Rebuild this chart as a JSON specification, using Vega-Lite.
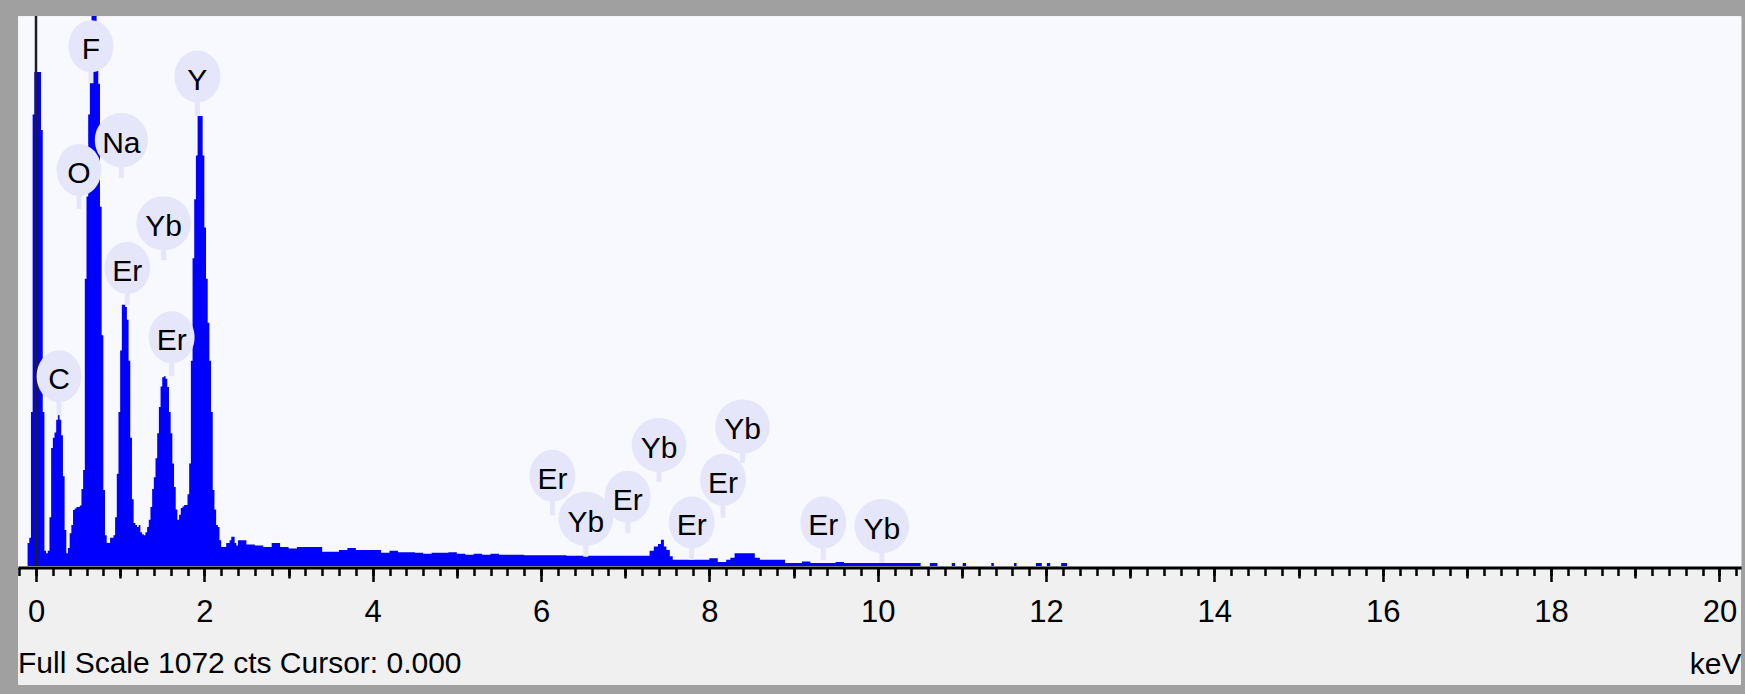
{
  "$schema": "https://vega.github.io/schema/vega-lite/v6.json",
  "background": "#A0A0A0",
  "padding": {"left": 18, "top": 16, "right": 4, "bottom": 9},
  "autosize": {"type": "none"},
  "width": 1723,
  "height": 669,
  "config": {"view": {"stroke": null, "fill": "#F0F0F0"}, "font": "Liberation Sans"},
  "title": {
    "text": "Full Scale 1072 cts Cursor: 0.000",
    "orient": "bottom", "anchor": "start", "frame": "group", "offset": -12,
    "font": "Liberation Sans", "fontSize": 30, "fontWeight": "normal", "color": "#000000", "baseline": "alphabetic"
  },
  "datasets": {
    "spectrum": [
      {"keV": -0.14, "cts": 0}, {"keV": -0.12, "cts": 0}, {"keV": -0.10, "cts": 45}, {"keV": -0.08, "cts": 55},
      {"keV": -0.06, "cts": 300}, {"keV": -0.04, "cts": 880}, {"keV": -0.02, "cts": 963}, {"keV": 0.00, "cts": 963},
      {"keV": 0.02, "cts": 963}, {"keV": 0.04, "cts": 963}, {"keV": 0.06, "cts": 850}, {"keV": 0.08, "cts": 300},
      {"keV": 0.10, "cts": 30}, {"keV": 0.12, "cts": 25}, {"keV": 0.14, "cts": 30}, {"keV": 0.16, "cts": 95},
      {"keV": 0.18, "cts": 230}, {"keV": 0.20, "cts": 250}, {"keV": 0.22, "cts": 260}, {"keV": 0.24, "cts": 285},
      {"keV": 0.26, "cts": 296}, {"keV": 0.28, "cts": 285}, {"keV": 0.30, "cts": 255}, {"keV": 0.32, "cts": 175},
      {"keV": 0.34, "cts": 70}, {"keV": 0.36, "cts": 25}, {"keV": 0.38, "cts": 35}, {"keV": 0.40, "cts": 64},
      {"keV": 0.42, "cts": 80}, {"keV": 0.44, "cts": 109}, {"keV": 0.46, "cts": 112}, {"keV": 0.48, "cts": 115},
      {"keV": 0.50, "cts": 115}, {"keV": 0.52, "cts": 118}, {"keV": 0.54, "cts": 150}, {"keV": 0.56, "cts": 187},
      {"keV": 0.58, "cts": 560}, {"keV": 0.60, "cts": 720}, {"keV": 0.62, "cts": 880}, {"keV": 0.64, "cts": 960},
      {"keV": 0.66, "cts": 1080}, {"keV": 0.68, "cts": 1080}, {"keV": 0.70, "cts": 1080}, {"keV": 0.72, "cts": 1000},
      {"keV": 0.74, "cts": 940}, {"keV": 0.76, "cts": 700}, {"keV": 0.78, "cts": 450}, {"keV": 0.80, "cts": 148},
      {"keV": 0.82, "cts": 60}, {"keV": 0.84, "cts": 45}, {"keV": 0.86, "cts": 45}, {"keV": 0.88, "cts": 55},
      {"keV": 0.90, "cts": 55}, {"keV": 0.92, "cts": 60}, {"keV": 0.94, "cts": 95}, {"keV": 0.96, "cts": 180},
      {"keV": 0.98, "cts": 300}, {"keV": 1.00, "cts": 420}, {"keV": 1.02, "cts": 509}, {"keV": 1.04, "cts": 509},
      {"keV": 1.06, "cts": 505}, {"keV": 1.08, "cts": 480}, {"keV": 1.10, "cts": 400}, {"keV": 1.12, "cts": 250},
      {"keV": 1.14, "cts": 130}, {"keV": 1.16, "cts": 84}, {"keV": 1.18, "cts": 80}, {"keV": 1.20, "cts": 76},
      {"keV": 1.22, "cts": 80}, {"keV": 1.24, "cts": 66}, {"keV": 1.26, "cts": 62}, {"keV": 1.28, "cts": 60},
      {"keV": 1.30, "cts": 66}, {"keV": 1.32, "cts": 76}, {"keV": 1.34, "cts": 90}, {"keV": 1.36, "cts": 115},
      {"keV": 1.38, "cts": 150}, {"keV": 1.40, "cts": 173}, {"keV": 1.42, "cts": 210}, {"keV": 1.44, "cts": 259},
      {"keV": 1.46, "cts": 310}, {"keV": 1.48, "cts": 350}, {"keV": 1.50, "cts": 368}, {"keV": 1.52, "cts": 370},
      {"keV": 1.54, "cts": 365}, {"keV": 1.56, "cts": 349}, {"keV": 1.58, "cts": 300}, {"keV": 1.60, "cts": 259},
      {"keV": 1.62, "cts": 200}, {"keV": 1.64, "cts": 154}, {"keV": 1.66, "cts": 110}, {"keV": 1.68, "cts": 90},
      {"keV": 1.70, "cts": 100}, {"keV": 1.72, "cts": 113}, {"keV": 1.74, "cts": 116}, {"keV": 1.76, "cts": 119},
      {"keV": 1.78, "cts": 119}, {"keV": 1.80, "cts": 140}, {"keV": 1.82, "cts": 200}, {"keV": 1.84, "cts": 400},
      {"keV": 1.86, "cts": 600}, {"keV": 1.88, "cts": 715}, {"keV": 1.90, "cts": 800}, {"keV": 1.92, "cts": 877},
      {"keV": 1.94, "cts": 877}, {"keV": 1.96, "cts": 877}, {"keV": 1.98, "cts": 800}, {"keV": 2.00, "cts": 660},
      {"keV": 2.02, "cts": 560}, {"keV": 2.04, "cts": 474}, {"keV": 2.06, "cts": 400}, {"keV": 2.08, "cts": 300},
      {"keV": 2.10, "cts": 148}, {"keV": 2.12, "cts": 110}, {"keV": 2.14, "cts": 80}, {"keV": 2.16, "cts": 76},
      {"keV": 2.18, "cts": 50}, {"keV": 2.20, "cts": 37}, {"keV": 2.22, "cts": 37}, {"keV": 2.24, "cts": 37},
      {"keV": 2.26, "cts": 45}, {"keV": 2.28, "cts": 45}, {"keV": 2.30, "cts": 50}, {"keV": 2.32, "cts": 57},
      {"keV": 2.34, "cts": 57}, {"keV": 2.36, "cts": 45}, {"keV": 2.38, "cts": 40}, {"keV": 2.40, "cts": 50},
      {"keV": 2.5, "cts": 42}, {"keV": 2.6, "cts": 40}, {"keV": 2.7, "cts": 37}, {"keV": 2.8, "cts": 45},
      {"keV": 2.9, "cts": 37}, {"keV": 3.0, "cts": 34}, {"keV": 3.1, "cts": 37}, {"keV": 3.2, "cts": 37},
      {"keV": 3.3, "cts": 37}, {"keV": 3.4, "cts": 28}, {"keV": 3.5, "cts": 28}, {"keV": 3.6, "cts": 31},
      {"keV": 3.7, "cts": 35}, {"keV": 3.8, "cts": 31}, {"keV": 3.9, "cts": 31}, {"keV": 4.0, "cts": 31},
      {"keV": 4.1, "cts": 26}, {"keV": 4.2, "cts": 30}, {"keV": 4.3, "cts": 27}, {"keV": 4.4, "cts": 27},
      {"keV": 4.5, "cts": 26}, {"keV": 4.6, "cts": 24}, {"keV": 4.7, "cts": 26}, {"keV": 4.8, "cts": 26},
      {"keV": 4.9, "cts": 27}, {"keV": 5.0, "cts": 24}, {"keV": 5.1, "cts": 22}, {"keV": 5.2, "cts": 24},
      {"keV": 5.3, "cts": 22}, {"keV": 5.4, "cts": 24}, {"keV": 5.5, "cts": 22}, {"keV": 5.6, "cts": 22},
      {"keV": 5.7, "cts": 22}, {"keV": 5.8, "cts": 21}, {"keV": 5.9, "cts": 21}, {"keV": 6.0, "cts": 21},
      {"keV": 6.1, "cts": 21}, {"keV": 6.2, "cts": 21}, {"keV": 6.3, "cts": 20}, {"keV": 6.4, "cts": 20},
      {"keV": 6.5, "cts": 20}, {"keV": 6.6, "cts": 20}, {"keV": 6.7, "cts": 20}, {"keV": 6.8, "cts": 20},
      {"keV": 6.9, "cts": 20}, {"keV": 7.0, "cts": 20}, {"keV": 7.1, "cts": 20}, {"keV": 7.2, "cts": 20},
      {"keV": 7.29, "cts": 30}, {"keV": 7.34, "cts": 38}, {"keV": 7.39, "cts": 43}, {"keV": 7.425, "cts": 51},
      {"keV": 7.46, "cts": 38}, {"keV": 7.49, "cts": 31}, {"keV": 7.53, "cts": 19}, {"keV": 7.565, "cts": 12},
      {"keV": 7.7, "cts": 12}, {"keV": 7.8, "cts": 12}, {"keV": 7.9, "cts": 12}, {"keV": 8.0, "cts": 15},
      {"keV": 8.1, "cts": 8}, {"keV": 8.2, "cts": 12}, {"keV": 8.25, "cts": 16}, {"keV": 8.3, "cts": 25},
      {"keV": 8.54, "cts": 16}, {"keV": 8.6, "cts": 12}, {"keV": 8.7, "cts": 12}, {"keV": 8.8, "cts": 12},
      {"keV": 8.9, "cts": 6}, {"keV": 9.0, "cts": 6}, {"keV": 9.1, "cts": 9}, {"keV": 9.2, "cts": 6},
      {"keV": 9.3, "cts": 6}, {"keV": 9.4, "cts": 6}, {"keV": 9.5, "cts": 8}, {"keV": 9.6, "cts": 6},
      {"keV": 9.7, "cts": 6}, {"keV": 9.8, "cts": 6}, {"keV": 9.9, "cts": 6}, {"keV": 10.0, "cts": 6},
      {"keV": 10.1, "cts": 6}, {"keV": 10.2, "cts": 6}, {"keV": 10.3, "cts": 6}, {"keV": 10.4, "cts": 6},
      {"keV": 10.51, "cts": 0}, {"keV": 10.62, "cts": 6}, {"keV": 10.71, "cts": 0}, {"keV": 10.88, "cts": 6},
      {"keV": 10.92, "cts": 0}, {"keV": 11.01, "cts": 6}, {"keV": 11.05, "cts": 0}, {"keV": 11.35, "cts": 6},
      {"keV": 11.38, "cts": 0}, {"keV": 11.62, "cts": 6}, {"keV": 11.65, "cts": 0}, {"keV": 11.88, "cts": 6},
      {"keV": 11.95, "cts": 0}, {"keV": 12.01, "cts": 6}, {"keV": 12.05, "cts": 0}, {"keV": 12.18, "cts": 6},
      {"keV": 12.25, "cts": 0}, {"keV": 12.4, "cts": 0}
    ],
    "peaks": [
      {"el": "F", "keV": 0.653, "cts": 1013, "tip": 941},
      {"el": "Y", "keV": 1.917, "cts": 954, "tip": 877},
      {"el": "Na", "keV": 1.014, "cts": 830, "tip": 756},
      {"el": "O", "keV": 0.511, "cts": 772, "tip": 696},
      {"el": "Yb", "keV": 1.517, "cts": 668, "tip": 596},
      {"el": "Er", "keV": 1.085, "cts": 581, "tip": 509},
      {"el": "Er", "keV": 1.612, "cts": 446, "tip": 370},
      {"el": "C", "keV": 0.273, "cts": 370, "tip": 294},
      {"el": "Er", "keV": 6.136, "cts": 176, "tip": 99},
      {"el": "Yb", "keV": 6.532, "cts": 92, "tip": 18},
      {"el": "Er", "keV": 7.030, "cts": 135, "tip": 64},
      {"el": "Yb", "keV": 7.402, "cts": 236, "tip": 164},
      {"el": "Er", "keV": 7.790, "cts": 85, "tip": 12},
      {"el": "Er", "keV": 8.162, "cts": 168, "tip": 94},
      {"el": "Yb", "keV": 8.394, "cts": 272, "tip": 201},
      {"el": "Er", "keV": 9.354, "cts": 85, "tip": 12},
      {"el": "Yb", "keV": 10.05, "cts": 78, "tip": 6}
    ]
  },
  "layer": [
    {
      "data": {"name": "spectrum"},
      "mark": {"type": "area", "interpolate": "step-after", "color": "#0000FF", "clip": true},
      "encoding": {
        "x": {
          "field": "keV", "type": "quantitative",
          "scale": {"domain": [-0.2139, 20.257], "nice": false, "zero": false},
          "axis": {
            "orient": "bottom", "offset": -117.5,
            "values": [0, 2, 4, 6, 8, 10, 12, 14, 16, 18, 20],
            "tickSize": 14, "tickWidth": 2.5, "tickColor": "#000000",
            "domain": true, "domainColor": "#000000", "domainWidth": 3, "grid": false,
            "labelFont": "Liberation Sans", "labelFontSize": 31, "labelColor": "#000000",
            "labelBaseline": "alphabetic", "labelPadding": 40, "labelFlush": false, "labelOverlap": false,
            "title": "keV", "titleFont": "Liberation Sans", "titleFontSize": 30, "titleFontWeight": "normal",
            "titleColor": "#000000", "titleAnchor": "end", "titleAlign": "right", "titleBaseline": "alphabetic",
            "titleY": 105.5
          }
        },
        "y": {
          "field": "cts", "type": "quantitative",
          "scale": {"domain": [-231.9, 1072], "nice": false, "zero": false},
          "axis": {
            "values": [536], "grid": true, "gridWidth": 550, "gridColor": "#F8F8FF", "gridOpacity": 1,
            "ticks": false, "labels": false, "domain": false, "title": null
          }
        }
      }
    },
    {
      "data": {"values": [{"keV": 0}]},
      "mark": {"type": "rule", "color": "#1E1E1E", "strokeWidth": 2.5},
      "encoding": {
        "x": {
          "field": "keV", "type": "quantitative",
          "axis": {
            "orient": "bottom", "offset": -117.5,
            "values": [1, 3, 5, 7, 9, 11, 13, 15, 17, 19],
            "tickSize": 10.5, "tickWidth": 2.5, "tickColor": "#000000",
            "domain": false, "grid": false, "labels": false, "title": null
          }
        },
        "y": {"datum": 1072},
        "y2": {"datum": 0}
      }
    },
    {
      "data": {"name": "peaks"},
      "mark": {"type": "rule", "color": "#E6E6FA", "strokeWidth": 5},
      "encoding": {
        "x": {"field": "keV", "type": "quantitative", "axis": null},
        "y": {"field": "cts", "type": "quantitative"},
        "y2": {"field": "tip"}
      }
    },
    {
      "data": {"name": "peaks"},
      "mark": {"type": "point", "filled": true, "opacity": 1, "color": "#E6E6FA", "size": 2704, "strokeWidth": 0},
      "encoding": {
        "x": {
          "field": "keV", "type": "quantitative",
          "axis": {
            "orient": "bottom", "offset": -117.5,
            "values": [-0.2,0,0.2,0.4,0.6,0.8,1,1.2,1.4,1.6,1.8,2,2.2,2.4,2.6,2.8,3,3.2,3.4,3.6,3.8,4,4.2,4.4,4.6,4.8,5,5.2,5.4,5.6,5.8,6,6.2,6.4,6.6,6.8,7,7.2,7.4,7.6,7.8,8,8.2,8.4,8.6,8.8,9,9.2,9.4,9.6,9.8,10,10.2,10.4,10.6,10.8,11,11.2,11.4,11.6,11.8,12,12.2,12.4,12.6,12.8,13,13.2,13.4,13.6,13.8,14,14.2,14.4,14.6,14.8,15,15.2,15.4,15.6,15.8,16,16.2,16.4,16.6,16.8,17,17.2,17.4,17.6,17.8,18,18.2,18.4,18.6,18.8,19,19.2,19.4,19.6,19.8,20,20.2],
            "tickSize": 8, "tickWidth": 2.5, "tickColor": "#000000",
            "domain": false, "grid": false, "labels": false, "title": null
          }
        },
        "y": {"field": "cts", "type": "quantitative"},
        "shape": {
          "field": "el", "type": "nominal", "legend": null,
          "scale": {
            "domain": ["C", "O", "F", "Na", "Er", "Yb", "Y"],
            "range": [
              "M0,-1A0.86,1,0,1,1,0,1A0.86,1,0,1,1,0,-1Z",
              "M0,-1A0.86,1,0,1,1,0,1A0.86,1,0,1,1,0,-1Z",
              "M0,-1A0.86,1,0,1,1,0,1A0.86,1,0,1,1,0,-1Z",
              "M0,-1.04A1.02,1.04,0,1,1,0,1.04A1.02,1.04,0,1,1,0,-1.04Z",
              "M0,-1A0.88,1,0,1,1,0,1A0.88,1,0,1,1,0,-1Z",
              "M0,-1.04A1.05,1.04,0,1,1,0,1.04A1.05,1.04,0,1,1,0,-1.04Z",
              "M0,-1A0.88,1,0,1,1,0,1A0.88,1,0,1,1,0,-1Z"
            ]
          }
        }
      }
    },
    {
      "data": {"name": "peaks"},
      "mark": {"type": "text", "font": "Liberation Sans", "fontSize": 30, "color": "#000000", "baseline": "alphabetic", "align": "center", "dy": 13},
      "encoding": {
        "x": {"field": "keV", "type": "quantitative", "axis": null},
        "y": {"field": "cts", "type": "quantitative"},
        "text": {"field": "el"}
      }
    }
  ],
  "resolve": {"axis": {"x": "independent"}}
}
